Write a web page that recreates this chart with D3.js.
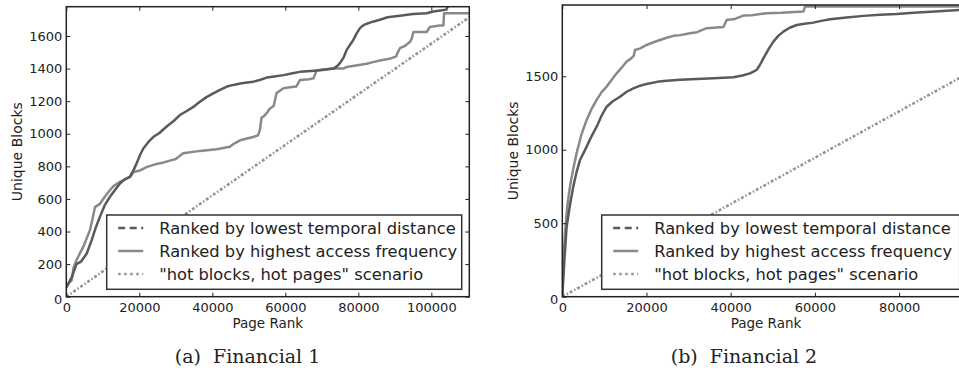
<!DOCTYPE html>
<html><head><meta charset="utf-8">
<script src="https://cdn.jsdelivr.net/npm/d3@7/dist/d3.min.js"></script>
<style>
html,body{margin:0;padding:0;background:#fff;}
svg{display:block;}
text{fill:#222;}
</style></head>
<body>
<svg id="c" width="959" height="371"></svg>
<script>
// ---------- data ----------
const legendLabels = ["Ranked by lowest temporal distance","Ranked by highest access frequency","\"hot blocks, hot pages\" scenario"];
const captionA = "(a)  Financial 1";
const captionB = "(b)  Financial 2";
const xLabel = "Page Rank";
const yLabel = "Unique Blocks";

const xTicksA = [0,20000,40000,60000,80000,100000];
const yTicksA = [0,200,400,600,800,1000,1200,1400,1600];
const xTicksB = [0,20000,40000,60000,80000];
const yTicksB = [0,500,1000,1500];

const temporalA = [[0,55],[1500,120],[2800,200],[4000,215],[5600,265],[7000,350],[8000,420],[9200,490],[10500,560],[12000,615],[13500,660],[14700,695],[16000,720],[17400,735],[18500,780],[19300,820],[20200,870],[21100,910],[22500,950],[23800,980],[25500,1005],[27500,1045],[29500,1080],[31100,1115],[33000,1140],[34800,1165],[36500,1195],[38400,1225],[40000,1245],[42100,1270],[44000,1290],[45800,1300],[48000,1310],[51200,1320],[53000,1330],[54900,1345],[57000,1352],[59500,1360],[62000,1372],[64000,1380],[67000,1385],[69500,1390],[73150,1400],[74200,1415],[75000,1435],[76000,1470],[76800,1515],[77700,1545],[78600,1575],[79500,1615],[80500,1650],[81500,1668],[82300,1675],[84000,1688],[85900,1700],[88000,1715],[91400,1725],[95000,1735],[98700,1740],[100500,1750],[102500,1757],[104100,1762],[104700,1790],[110400,1790]];
const freqA = [[0,70],[1460,100],[2000,180],[2800,225],[4660,307],[6500,410],[7400,500],[7850,550],[9200,570],[10600,615],[12000,655],[13000,680],[14700,705],[16500,725],[17500,735],[18400,765],[20200,775],[22000,795],[24700,815],[26000,820],[28400,835],[30000,845],[32000,880],[36600,895],[41200,905],[44800,920],[46000,940],[47600,960],[51200,980],[52500,990],[53000,1020],[53500,1100],[54000,1105],[55000,1130],[55800,1155],[56800,1170],[57600,1250],[59500,1280],[61300,1285],[63000,1290],[64000,1330],[66500,1335],[67700,1340],[68600,1390],[73150,1400],[75900,1400],[76800,1410],[82300,1430],[84000,1440],[85900,1450],[88500,1460],[90400,1475],[90600,1490],[91400,1525],[92800,1540],[94200,1565],[94700,1590],[95100,1625],[98700,1625],[99600,1655],[102300,1665],[103300,1665],[103500,1740],[110400,1740]];
const hotA = [[0,0],[110400,1715]];

const temporalB = [[0,0],[500,250],[1030,476],[1800,620],[2610,749],[3400,850],[4200,930],[5000,975],[5780,1021],[7000,1095],[8160,1157],[9300,1230],[10540,1293],[12000,1330],[13700,1361],[15200,1393],[16870,1418],[18500,1436],[20040,1448],[22500,1462],[24790,1470],[28000,1476],[31920,1482],[36000,1487],[40630,1493],[42800,1505],[44590,1520],[46180,1543],[47000,1580],[47760,1622],[49000,1685],[50140,1736],[51300,1775],[52510,1804],[54000,1830],[55680,1849],[57500,1857],[59640,1865],[61500,1877],[63600,1888],[67500,1900],[71520,1911],[75500,1918],[79440,1924],[83400,1933],[88500,1940],[94250,1951],[100000,1960]];
const freqB = [[0,0],[300,250],[630,431],[1200,620],[1820,749],[2600,870],[3400,976],[4500,1100],[5780,1203],[7000,1280],[8160,1339],[9300,1390],[10540,1430],[11700,1475],[12910,1520],[14000,1555],[15290,1600],[16300,1620],[17000,1640],[17270,1679],[18500,1690],[20040,1713],[21500,1730],[23210,1747],[24800,1762],[26380,1775],[28000,1780],[30340,1793],[32000,1800],[34300,1827],[36000,1830],[38260,1835],[38500,1849],[39050,1883],[41000,1890],[43010,1913],[45000,1915],[48550,1929],[52000,1932],[57270,1940],[57660,1974],[100000,1974]];
const hotB = [[0,0],[100000,1577]];

// ---------- styling ----------
const COL_T = "#5a5a5a", COL_F = "#898989", COL_H = "#959595";
const SANS = "'DejaVu Sans', sans-serif";
const SERIF = "'DejaVu Serif', serif";

const svg = d3.select("#c");

function panel(cfg){
  const {id,left,right,top,bottom,xMax,yMax,xTicks,yTicks,series,legend,caption,captionX} = cfg;
  const x = d3.scaleLinear().domain([0,xMax]).range([left,right]);
  const y = d3.scaleLinear().domain([0,yMax]).range([bottom,top]);
  const g = svg.append("g");
  g.append("clipPath").attr("id","clip"+id).append("rect")
    .attr("x",left).attr("y",top).attr("width",right-left).attr("height",bottom-top);

  const line = d3.line().x(d=>x(d[0])).y(d=>y(d[1]));
  const pg = g.append("g").attr("clip-path",`url(#clip${id})`);
  pg.append("path").datum(series.hot).attr("d",line).attr("fill","none")
    .attr("stroke",COL_H).attr("stroke-width",2.6).attr("stroke-dasharray","3,2,1.5,2");
  pg.append("path").datum(series.freq).attr("d",line).attr("fill","none")
    .attr("stroke",COL_F).attr("stroke-width",2.5).attr("stroke-linejoin","round");
  pg.append("path").datum(series.temporal).attr("d",line).attr("fill","none")
    .attr("stroke",COL_T).attr("stroke-width",2.5).attr("stroke-linejoin","round");

  // axes
  const fmt = d3.format("d");
  const ax = (a)=>a.tickSizeOuter(0);
  const bx = g.append("g").attr("transform",`translate(0,${bottom})`)
    .call(ax(d3.axisBottom(x).tickValues(xTicks).tickFormat(fmt).tickSizeInner(-4).tickPadding(6)));
  const tx = g.append("g").attr("transform",`translate(0,${top})`)
    .call(ax(d3.axisTop(x).tickValues(xTicks).tickFormat("").tickSizeInner(-4)));
  const ly = g.append("g").attr("transform",`translate(${left},0)`)
    .call(ax(d3.axisLeft(y).tickValues(yTicks).tickFormat(fmt).tickSizeInner(-4).tickPadding(4)));
  const ry = g.append("g").attr("transform",`translate(${right},0)`)
    .call(ax(d3.axisRight(y).tickValues(yTicks).tickFormat("").tickSizeInner(-4)));
  [bx,tx,ly,ry].forEach(a=>{
    a.select(".domain").remove();
    a.selectAll("line").attr("stroke","#222").attr("stroke-width",1);
    a.selectAll("text").attr("font-size",13).attr("fill","#222").style("font-family",SANS);
  });
  ly.selectAll(".tick").filter(d=>d===0).select("text").attr("dy","0.55em");

  g.append("rect").attr("x",left).attr("y",top).attr("width",right-left).attr("height",bottom-top)
    .attr("fill","none").attr("stroke","#222").attr("stroke-width",1.5);

  // labels
  g.append("text").attr("x",(left+right)/2).attr("y",bottom+31.5).attr("text-anchor","middle")
    .style("font-family",SANS).attr("font-size",13.5).text(xLabel);
  g.append("text").attr("transform",`translate(${left-49},${(top+bottom)/2}) rotate(-90)`)
    .attr("text-anchor","middle").attr("dominant-baseline","central")
    .style("font-family",SANS).attr("font-size",14).text(yLabel);
  g.append("text").attr("x",captionX).attr("y",363).attr("text-anchor","middle")
    .style("font-family",SERIF).attr("font-size",19).attr("fill","#2a2a2a").style("white-space","pre").text(caption);

  // legend
  const lg = g.append("g");
  lg.append("rect").attr("x",legend.x).attr("y",215).attr("width",legend.w).attr("height",74.3)
    .attr("fill","#fff").attr("stroke","#333").attr("stroke-width",1.5);
  const rows = [228,251,274];
  const styles = [
    {c:COL_T,d:"7,4.5"},
    {c:COL_F,d:null},
    {c:COL_H,d:"2.5,3.5"}
  ];
  legendLabels.forEach((t,i)=>{
    const l = lg.append("line").attr("x1",legend.x+11.5).attr("x2",legend.x+36.5)
      .attr("y1",rows[i]).attr("y2",rows[i]).attr("stroke",styles[i].c).attr("stroke-width",2.5);
    if(styles[i].d) l.attr("stroke-dasharray",styles[i].d);
    lg.append("text").attr("x",legend.x+52.5).attr("y",rows[i]).attr("dominant-baseline","central")
      .style("font-family",SANS).attr("font-size",16.3).text(t);
  });
}

panel({id:"A",left:66.3,right:469.3,top:6.7,bottom:296.7,xMax:110400,yMax:1780,
  xTicks:xTicksA,yTicks:yTicksA,series:{temporal:temporalA,freq:freqA,hot:hotA},
  legend:{x:106.7,w:355},caption:captionA,captionX:247.5});
panel({id:"B",left:562.3,right:969.7,top:5,bottom:296.7,xMax:96770,yMax:1985,
  xTicks:xTicksB,yTicks:yTicksB,series:{temporal:temporalB,freq:freqB,hot:hotB},
  legend:{x:601.7,w:358},caption:captionB,captionX:744});
</script>
</body></html>
